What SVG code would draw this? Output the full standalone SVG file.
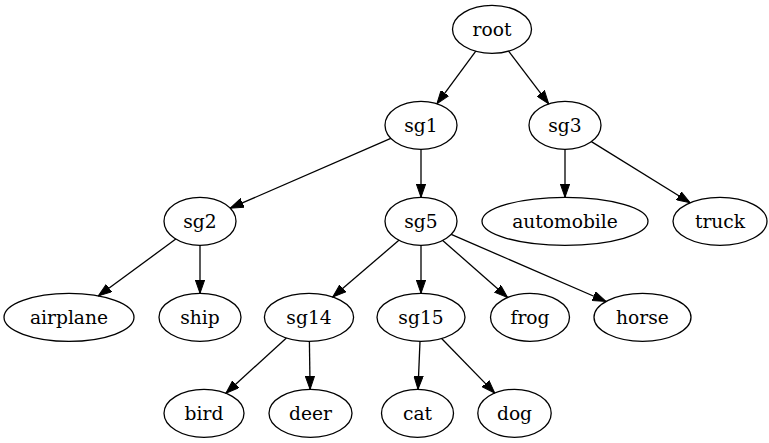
<svg xmlns="http://www.w3.org/2000/svg" width="769" height="443" viewBox="0 0 769 443">
<style>
.n ellipse{fill:none;stroke:#000;stroke-width:1.3}
.n text{font-family:"DejaVu Serif",serif;font-size:18.67px;text-anchor:middle;fill:#000}
.e line{stroke:#000;stroke-width:1.3;marker-end:url(#a)}
</style>
<defs>
<marker id="a" markerUnits="userSpaceOnUse" markerWidth="14" markerHeight="10" viewBox="0 -5 14 10" refX="13.33" refY="0" orient="auto">
<path d="M0,-4.67 L13.33,0 L0,4.67 z" fill="#000" stroke="#000" stroke-width="1"/>
</marker>
</defs>
<rect width="769" height="443" fill="#fff"/>
<g id="edges" class="e">
<line x1="475.8" y1="51.2" x2="436.9" y2="103.8"/>
<line x1="508.6" y1="51.1" x2="548.7" y2="103.9"/>
<line x1="390.8" y1="138.4" x2="230.2" y2="208.2"/>
<line x1="421" y1="149.3" x2="421" y2="197.3"/>
<line x1="565" y1="149.3" x2="565" y2="197.3"/>
<line x1="591.4" y1="141.6" x2="690.1" y2="202.8"/>
<line x1="175.8" y1="239.1" x2="98.3" y2="295.9"/>
<line x1="200" y1="245.3" x2="200" y2="293.3"/>
<line x1="398.9" y1="240.3" x2="332.7" y2="297.0"/>
<line x1="421" y1="245.3" x2="421" y2="293.3"/>
<line x1="442.7" y1="240.4" x2="507.6" y2="297.6"/>
<line x1="451.2" y1="234.4" x2="606" y2="301.5"/>
<line x1="286.4" y1="338.0" x2="225.9" y2="393.2"/>
<line x1="309.4" y1="341.3" x2="310.1" y2="389.3"/>
<line x1="420" y1="341.3" x2="418" y2="389.3"/>
<line x1="441.6" y1="338.5" x2="494.8" y2="393.1"/>
</g>
<g id="root" class="n"><ellipse cx="492" cy="29.3" rx="39.5" ry="24"/><text x="492" y="35.8">root</text></g>
<g id="sg1" class="n"><ellipse cx="421" cy="125.3" rx="36" ry="24"/><text x="421" y="131.8">sg1</text></g>
<g id="sg3" class="n"><ellipse cx="565" cy="125.3" rx="36" ry="24"/><text x="565" y="131.8">sg3</text></g>
<g id="sg2" class="n"><ellipse cx="200" cy="221.3" rx="36" ry="24"/><text x="200" y="227.8">sg2</text></g>
<g id="sg5" class="n"><ellipse cx="421" cy="221.3" rx="36" ry="24"/><text x="421" y="227.8">sg5</text></g>
<g id="automobile" class="n"><ellipse cx="565" cy="221.3" rx="83" ry="24"/><text x="565" y="227.8">automobile</text></g>
<g id="truck" class="n"><ellipse cx="720" cy="221.3" rx="47" ry="24"/><text x="720" y="227.8">truck</text></g>
<g id="airplane" class="n"><ellipse cx="69" cy="317.3" rx="65" ry="24"/><text x="69" y="323.8">airplane</text></g>
<g id="ship" class="n"><ellipse cx="200" cy="317.3" rx="41" ry="24"/><text x="200" y="323.8">ship</text></g>
<g id="sg14" class="n"><ellipse cx="309" cy="317.3" rx="44.6" ry="24"/><text x="309" y="323.8">sg14</text></g>
<g id="sg15" class="n"><ellipse cx="421" cy="317.3" rx="44" ry="24"/><text x="421" y="323.8">sg15</text></g>
<g id="frog" class="n"><ellipse cx="530" cy="317.3" rx="39.5" ry="24"/><text x="530" y="323.8">frog</text></g>
<g id="horse" class="n"><ellipse cx="642.5" cy="317.3" rx="48.5" ry="24"/><text x="642.5" y="323.8">horse</text></g>
<g id="bird" class="n"><ellipse cx="204" cy="413.3" rx="40" ry="24"/><text x="204" y="419.8">bird</text></g>
<g id="deer" class="n"><ellipse cx="310.5" cy="413.3" rx="41.5" ry="24"/><text x="310.5" y="419.8">deer</text></g>
<g id="cat" class="n"><ellipse cx="417.5" cy="413.3" rx="36" ry="24"/><text x="417.5" y="419.8">cat</text></g>
<g id="dog" class="n"><ellipse cx="514.5" cy="413.3" rx="36.7" ry="24"/><text x="514.5" y="419.8">dog</text></g>
</svg>
